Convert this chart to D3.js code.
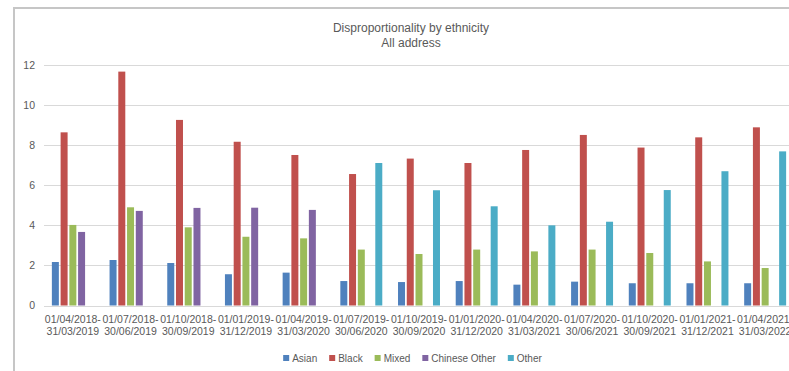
<!DOCTYPE html>
<html>
<head>
<meta charset="utf-8">
<script src="https://cdn.jsdelivr.net/npm/d3@7"></script>
<style>
  body { margin: 0; background: #fff; }
  svg text { font-family: "Liberation Sans", Arial, sans-serif; fill: #595959; }
</style>
</head>
<body>
<svg id="chart" width="789" height="371"></svg>
<script>
// Rolling 12-month periods
const periods = [
  "01/04/2018-31/03/2019", "01/07/2018-30/06/2019", "01/10/2018-30/09/2019",
  "01/01/2019-31/12/2019", "01/04/2019-31/03/2020", "01/07/2019-30/06/2020",
  "01/10/2019-30/09/2020", "01/01/2020-31/12/2020", "01/04/2020-31/03/2021",
  "01/07/2020-30/06/2021", "01/10/2020-30/09/2021", "01/01/2021-31/12/2021",
  "01/04/2021-31/03/2022"
];

// Disproportionality ratio per ethnic group (null = not reported)
const asian   = [2.17, 2.27, 2.12, 1.56, 1.64, 1.22, 1.17, 1.22, 1.04, 1.19, 1.11, 1.11, 1.11];
const black   = [8.64, 11.67, 9.26, 8.17, 7.51, 6.56, 7.33, 7.11, 7.76, 8.51, 7.88, 8.39, 8.89];
const mixed   = [4.02, 4.90, 3.90, 3.43, 3.35, 2.79, 2.57, 2.79, 2.70, 2.79, 2.62, 2.20, 1.87];
const chineseOther = [3.67, 4.72, 4.87, 4.88, 4.77, null, null, null, null, null, null, null, null];
const other   = [null, null, null, null, null, 7.11, 5.75, 4.95, 4.00, 4.18, 5.76, 6.70, 7.69];

const seriesNames = ["Asian", "Black", "Mixed", "Chinese Other", "Other"];
const seriesValues = [asian, black, mixed, chineseOther, other];
const seriesColors = ["#4f81bd", "#c0504d", "#9bbb59", "#8064a2", "#4bacc6"];
const yTicks = [0, 2, 4, 6, 8, 10, 12];

const svg = d3.select("#chart");

// Chart frame
svg.append("path")
  .attr("d", "M14,371V8H789")
  .attr("fill", "none")
  .attr("stroke", "#c6c6c6")
  .attr("stroke-width", 2);

// Title
const title = svg.append("text")
  .attr("x", 411).attr("y", 32)
  .attr("text-anchor", "middle")
  .style("font-size", "12px");
title.append("tspan").attr("x", 411).text("Disproportionality by ethnicity");
title.append("tspan").attr("x", 411).attr("dy", 15).text("All address");

const plotLeft = 44, plotRight = 794, plotTop = 65, plotBottom = 305.5;

const x = d3.scaleBand().domain(periods).range([plotLeft, plotRight]);
const xs = d3.scaleBand().domain(seriesNames).range([0, x.bandwidth()])
  .paddingInner(0.2).paddingOuter(0.9);
const y = d3.scaleLinear().domain([0, 12]).range([plotBottom, plotTop]);
const color = d3.scaleOrdinal().domain(seriesNames).range(seriesColors);

// Gridlines
svg.append("g")
  .selectAll("line")
  .data(yTicks)
  .join("line")
  .attr("x1", plotLeft).attr("x2", plotRight)
  .attr("y1", d => Math.round(y(d)) + 0.5)
  .attr("y2", d => Math.round(y(d)) + 0.5)
  .attr("stroke", "#d9d9d9")
  .attr("stroke-width", 1);

// Y axis labels
const yAxis = svg.append("g")
  .attr("transform", `translate(${plotLeft},0)`)
  .call(d3.axisLeft(y).tickValues(yTicks).tickSize(0).tickPadding(9));
yAxis.select(".domain").remove();
yAxis.selectAll("text")
  .style("font-size", "10.5px")
  .attr("fill", "#595959");

// Bars
const rows = periods.map((p, i) => ({ period: p, values: seriesNames.map((s, j) => ({ series: s, value: seriesValues[j][i] })) }));

svg.append("g")
  .selectAll("g")
  .data(rows)
  .join("g")
  .attr("transform", d => `translate(${x(d.period)},0)`)
  .selectAll("rect")
  .data(d => d.values.filter(v => v.value !== null))
  .join("rect")
  .attr("x", d => xs(d.series))
  .attr("width", xs.bandwidth())
  .attr("y", d => y(d.value))
  .attr("height", d => y(0) - y(d.value))
  .attr("fill", d => color(d.series));

// X axis: two-line period labels
const xAxis = svg.append("g")
  .attr("transform", `translate(0,${plotBottom})`)
  .call(d3.axisBottom(x).tickSize(0).tickFormat(""));
xAxis.select(".domain").remove();
xAxis.selectAll(".tick").each(function(d) {
  const parts = d.split("-");
  const t = d3.select(this).append("text")
    .attr("text-anchor", "middle")
    .attr("y", 17)
    .style("font-size", "10.5px")
    .attr("fill", "#595959");
  t.append("tspan").attr("x", 0).text(parts[0] + "-");
  t.append("tspan").attr("x", 0).attr("dy", 12.5).text(parts[1]);
});

// Legend
const legend = svg.append("g");
const items = legend.selectAll("g")
  .data(seriesNames)
  .join("g");
items.append("rect")
  .attr("width", 6).attr("height", 6)
  .attr("y", 355)
  .attr("fill", d => color(d));
items.append("text")
  .attr("x", 9).attr("y", 361.5)
  .style("font-size", "10px")
  .text(d => d);

let cursor = 0;
items.each(function() {
  const g = d3.select(this);
  g.attr("transform", `translate(${cursor},0)`);
  cursor += 9 + g.select("text").node().getComputedTextLength() + 12;
});
const legendWidth = cursor - 12;
legend.attr("transform", `translate(${412.5 - legendWidth / 2},0)`);
</script>
</body>
</html>
